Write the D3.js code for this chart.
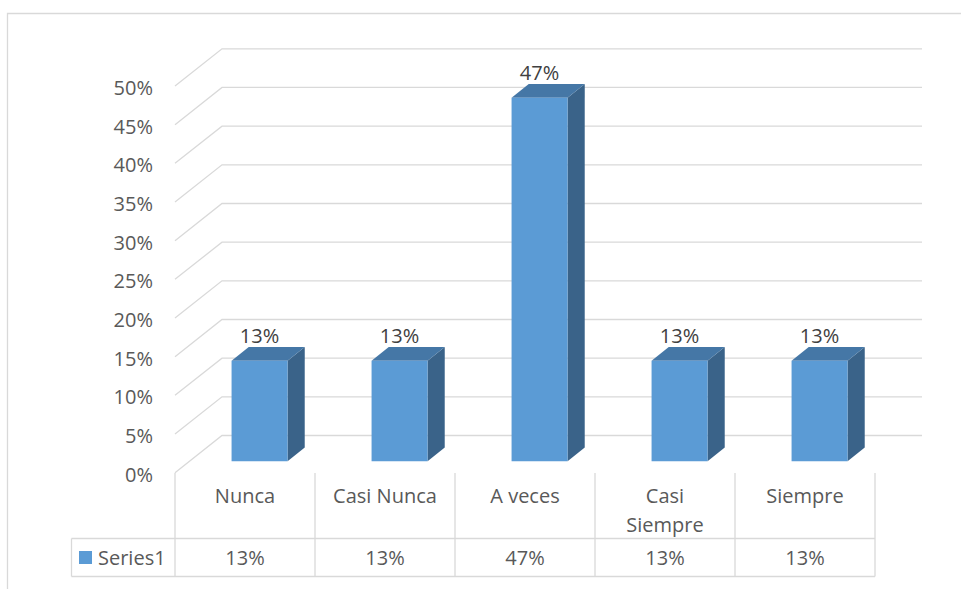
<!DOCTYPE html>
<html>
<head>
<meta charset="utf-8">
<script src="https://cdn.jsdelivr.net/npm/d3@7"></script>
<style>
  html, body { margin: 0; padding: 0; background: #fff; }
  svg { display: block; }
  text { font-family: "Open Sans", "Noto Sans", sans-serif; }
</style>
</head>
<body>
<svg id="chart" width="961" height="589"></svg>
<script>
// ---- data ----
const categories = ["Nunca", "Casi Nunca", "A veces", "Casi Siempre", "Siempre"];
const values = [13, 13, 47, 13, 13];
const seriesName = "Series1";
const yTickValues = [0, 5, 10, 15, 20, 25, 30, 35, 40, 45, 50];

// ---- layout ----
const W = 961, H = 589;
const svg = d3.select("#chart");
const DX = 47, DY = -37.2;          // depth offset of the 3D floor
const BAR_T0 = 0.31, BAR_T1 = 0.675; // bar front/back depth fractions
const gridColor = "#d9d9d9";
const textColor = "#595959";
const fontSize = 20;

const x = d3.scaleBand().domain(categories).range([175, 875]).padding(0);
const y = d3.scaleLinear().domain([0, 50]).range([472.7, 86]);

function P(px, v, t) { return [px + t * DX, y(v) + t * DY]; }

// outer chart border (left + top visible)
svg.append("path")
  .attr("d", `M7.5,${H} V13.5 H${W}`)
  .attr("fill", "none").attr("stroke", gridColor).attr("stroke-width", 1.3);

// gridlines (3D wall)
const grid = svg.append("g");
yTickValues.forEach(v => {
  const f = P(175, v, 0), b = P(175, v, 1), e = P(875, v, 1);
  grid.append("path")
    .attr("d", `M${f[0]},${f[1]} L${b[0]},${b[1]} L${e[0]},${e[1]}`)
    .attr("fill", "none").attr("stroke", gridColor).attr("stroke-width", 1.3);
});

// y tick labels
svg.append("g").selectAll("text").data(yTickValues).join("text")
  .attr("x", 153).attr("y", d => y(d) + 9)
  .attr("text-anchor", "end").attr("font-size", fontSize).attr("fill", textColor)
  .text(d => d + "%");

// bars
const bw = x.bandwidth() * 0.4;
const bars = svg.append("g").selectAll("g").data(categories.map((c, i) => ({c, v: values[i]}))).join("g");
bars.each(function(d) {
  const g = d3.select(this);
  const cx = x(d.c) + x.bandwidth() / 2;
  const xl = cx - bw / 2, xr = cx + bw / 2;
  const fTL = P(xl, d.v, BAR_T0), fTR = P(xr, d.v, BAR_T0), fBR = P(xr, 0, BAR_T0), fBL = P(xl, 0, BAR_T0);
  const bTL = P(xl, d.v, BAR_T1), bTR = P(xr, d.v, BAR_T1), bBR = P(xr, 0, BAR_T1);
  const pts = a => a.map(p => p.join(",")).join(" ");
  g.append("polygon").attr("points", pts([fTR, bTR, bBR, fBR])).attr("fill", "#3a6389");
  g.append("polygon").attr("points", pts([fTL, bTL, bTR, fTR])).attr("fill", "#4577a6");
  g.append("polygon").attr("points", pts([fTL, fTR, fBR, fBL])).attr("fill", "#5b9bd5");
  g.append("text")
    .attr("x", (fTL[0] + fTR[0]) / 2).attr("y", bTL[1] - 4.5)
    .attr("text-anchor", "middle").attr("font-size", fontSize).attr("fill", "#404040")
    .text(d.v + "%");
});

// data table
const tTop = 473, tMid = 538.5, tBot = 576.5, legL = 71.5;
const tbl = svg.append("g").attr("stroke", gridColor).attr("stroke-width", 1.3);
tbl.append("line").attr("x1", legL).attr("x2", 875).attr("y1", tMid).attr("y2", tMid);
tbl.append("line").attr("x1", legL).attr("x2", 875).attr("y1", tBot).attr("y2", tBot);
tbl.append("line").attr("x1", legL).attr("x2", legL).attr("y1", tMid).attr("y2", tBot);
const edges = categories.map(c => x(c)).concat([x.range()[1]]);
edges.forEach(e => {
  tbl.append("line").attr("x1", e).attr("x2", e).attr("y1", tTop).attr("y2", tBot);
});

// category labels with wrapping
const catG = svg.append("g");
categories.forEach(c => {
  const t = catG.append("text")
    .attr("x", x(c) + x.bandwidth() / 2).attr("y", 503)
    .attr("text-anchor", "middle").attr("font-size", fontSize).attr("fill", textColor);
  const words = c.split(" ");
  let line = [], lineNo = 0;
  let ts = t.append("tspan").attr("x", x(c) + x.bandwidth() / 2).attr("dy", 0);
  words.forEach(w => {
    line.push(w);
    ts.text(line.join(" "));
    if (ts.node().getComputedTextLength() > 112 && line.length > 1) {
      line.pop();
      ts.text(line.join(" "));
      line = [w];
      lineNo++;
      ts = t.append("tspan").attr("x", x(c) + x.bandwidth() / 2).attr("dy", 28.5).text(w);
    }
  });
});

// value row
svg.append("g").selectAll("text").data(values).join("text")
  .attr("x", (d, i) => x(categories[i]) + x.bandwidth() / 2).attr("y", 565)
  .attr("text-anchor", "middle").attr("font-size", fontSize).attr("fill", textColor)
  .text(d => d + "%");

// legend key
svg.append("rect").attr("x", 79).attr("y", 551).attr("width", 13).attr("height", 13).attr("fill", "#5b9bd5");
svg.append("text").attr("x", 98).attr("y", 565).attr("font-size", fontSize).attr("fill", textColor).text(seriesName);
</script>
</body>
</html>
